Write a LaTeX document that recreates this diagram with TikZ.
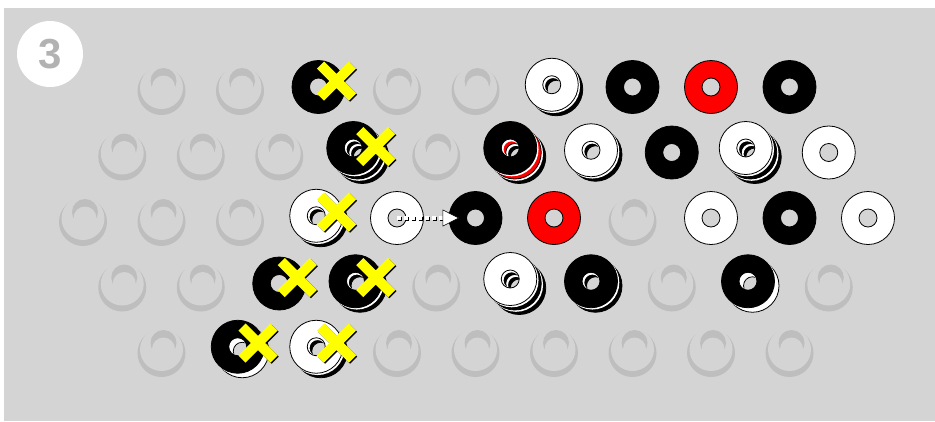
\documentclass[tikz,border=0pt]{standalone}
\usepackage{fontspec}
\setmainfont{Liberation Sans}
\usetikzlibrary{arrows.meta}

\definecolor{boardgray}{RGB}{212,212,212}
\definecolor{holegray}{RGB}{190,190,190}
\definecolor{numgray}{RGB}{178,178,178}
\definecolor{markyellow}{RGB}{255,255,0}

\tikzset{
  disc/.style={fill=#1, draw=black, line width=0.8pt, even odd rule},
  discrim/.style={fill=white, even odd rule},
  xmark/.style={markyellow, line width=10pt},
  xshadow/.style={black, line width=10pt},
  badge/.style={circle, fill=white, minimum size=66pt, inner sep=0pt, text=numgray,
    font=\bfseries\fontsize{42}{42}\selectfont},
}

% board spaces: #1 half-column, #2 row
\newcommand{\boardhole}[2]{%
  \coordinate (h-#2-#1) at ({83+39.25*#1},{87+65.5*#2});
  \fill[holegray] ([shift={(0,4)}]h-#2-#1) circle (24pt);
  \fill[boardgray] ([shift={(0,0.5)}]h-#2-#1) circle (21.5pt);
  \fill[holegray] ([shift={(2,-6)}]h-#2-#1) circle (13pt);
  \fill[boardgray] ([shift={(2,0)}]h-#2-#1) circle (11.5pt);
}

% colours of the stack from the bottom up
\newcommand{\piecestack}[3]{%
  \coordinate (p-#2-#1) at ({83+39.25*#1},{87+65.5*#2});
  \foreach \pc [count=\lay] in {#3} {\xdef\layers{\lay}}
  \foreach \pc [count=\lay] in {#3} {
    \pgfmathsetmacro{\off}{2.25*(\layers-1)-4.5*(\lay-1)}
    \ifnum\lay>1
      \fill[discrim] ([shift={(\off+1.3,\off+1.3)}]p-#2-#1) circle (27pt)
        ([shift={(\off+1.3,\off+1.3)}]p-#2-#1) circle (8pt);
    \fi
    \filldraw[disc=\pc] ([shift={(\off,\off)}]p-#2-#1) circle (26.5pt)
      ([shift={(\off,\off)}]p-#2-#1) circle (9pt);
  }
}

\newcommand{\removed}[2]{%
  \draw[xshadow] ([shift={(19.2,-4.8)}]p-#2-#1) +(-16,-16) -- +(16,16) +(-16,16) -- +(16,-16);
  \draw[xmark] ([shift={(18,-6)}]p-#2-#1) +(-16,-16) -- +(16,16) +(-16,16) -- +(16,-16);
}

\begin{document}
\begin{tikzpicture}[x=1pt,y=-1pt]
  \useasboundingbox (0,0) rectangle (935,421);
  \fill[white] (0,0) rectangle (935,421);
  \fill[boardgray] (4,8) rectangle (935,421);

  % empty spaces
  \foreach \hc/\hr in {2/0,4/0,8/0,10/0, 1/1,3/1,5/1,9/1, 0/2,2/2,4/2,14/2,
      1/3,3/3,9/3,15/3,19/3, 2/4,8/4,10/4,12/4,14/4,16/4,18/4}
    \boardhole{\hc}{\hr};

  \piecestack{6}{0}{black}
  \piecestack{12}{0}{black,white}
  \piecestack{14}{0}{black}
  \piecestack{16}{0}{red}
  \piecestack{18}{0}{black}

  \piecestack{7}{1}{black,black,black}
  \piecestack{11}{1}{black,red,black}
  \piecestack{13}{1}{black,white}
  \piecestack{15}{1}{black}
  \piecestack{17}{1}{black,black,white}
  \piecestack{19}{1}{white}

  \piecestack{6}{2}{black,white}
  \piecestack{8}{2}{white}
  \piecestack{10}{2}{black}
  \piecestack{12}{2}{red}
  \piecestack{16}{2}{white}
  \piecestack{18}{2}{black}
  \piecestack{20}{2}{white}

  \piecestack{5}{3}{black}
  \piecestack{7}{3}{black,black}
  \piecestack{11}{3}{black,black,white}
  \piecestack{13}{3}{black,black}
  \piecestack{17}{3}{white,black}

  \piecestack{4}{4}{white,black}
  \piecestack{6}{4}{black,white}

  % pieces taken off the board
  \removed{6}{0}
  \removed{7}{1}
  \removed{6}{2}
  \removed{5}{3}
  \removed{7}{3}
  \removed{4}{4}
  \removed{6}{4}

  % the move
  \draw[black, line width=4pt, dash pattern=on 4pt off 3pt, shorten >=33pt]
    ([shift={(0.8,1.3)}]p-2-8) -- ([shift={(0.8,1.3)}]p-2-10);
  \draw[white, line width=4pt, dash pattern=on 4pt off 3pt, shorten >=16pt,
    -{Triangle[length=17pt,width=17pt,color=black,fill=white,line width=0.6pt]}]
    (p-2-8) -- (p-2-10);

  \node[badge] (step) at (50,54) {3};
\end{tikzpicture}
\end{document}
